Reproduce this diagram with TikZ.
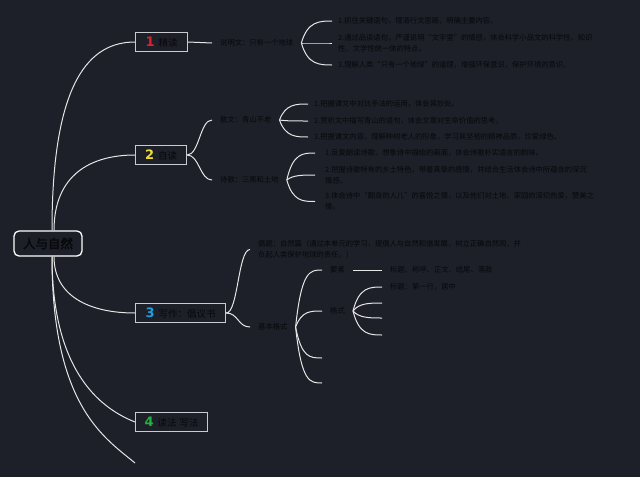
\documentclass[tikz,border=0pt]{standalone}
\usepackage{fontspec}
\usepackage{xcolor}
\usepackage{tikz}
\usetikzlibrary{positioning,calc}
\newfontfamily\cjk{Noto Sans CJK SC}
\newfontfamily\cjkbold[FakeBold=2.5]{Noto Sans CJK SC}
\newfontfamily\numfont{DejaVu Sans}
\definecolor{bgc}{HTML}{1E2029}
\definecolor{linec}{HTML}{E6E6E6}
\definecolor{boxc}{HTML}{C9CBD0}
\definecolor{inkc}{HTML}{07080B}
\definecolor{onec}{HTML}{E3202B}
\definecolor{twoc}{HTML}{F0DF2A}
\definecolor{threec}{HTML}{1E9FE0}
\definecolor{fourc}{HTML}{22B43A}
\newcommand\bnum[2]{{\numfont\bfseries\fontsize{13}{13}\selectfont\color{#1}#2}\hspace{4pt}}

\begin{document}
\begin{tikzpicture}[
    x=1pt, y=-1pt,
    font=\cjk\fontsize{7.3}{11}\selectfont,
    hub/.style={draw=white, line width=1.3pt, rounded corners=5pt, fill=bgc,
      minimum width=68pt, minimum height=25pt, inner sep=2pt,
      text=inkc, font=\cjkbold\fontsize{12.5}{13}\selectfont},
    topic/.style={draw=boxc, line width=1.2pt, fill=bgc, anchor=west,
      minimum height=19pt, inner sep=2pt, text=inkc,
      font=\cjk\fontsize{9.5}{10}\selectfont},
    lbl/.style={anchor=west, inner xsep=8pt, inner ysep=1pt, align=left, text=inkc},
    point/.style={anchor=west, inner xsep=6pt, inner ysep=1pt, align=left, text=inkc},
    link/.style={draw=linec, line width=1pt},
    scurve/.style={to path={.. controls ($(\tikztostart)+(12,0)$) and ($(\tikztotarget)+(-12,0)$) .. (\tikztotarget)}},
    fork/.style={to path={.. controls ($(\tikztostart |- \tikztotarget)+(6,0)$) and ($(\tikztotarget)+(-12,0)$) .. (\tikztotarget)}}
  ]

  \fill[bgc] (0,0) rectangle (640,477);
  \useasboundingbox (0,0) rectangle (640,477);

  % --- root
  \node[hub] (root) at (48,243.5) {人与自然};

  % --- 1 精读
  \node[topic, minimum width=52pt] (b1) at (135,42) {\bnum{onec}{1}精读};
  \node[lbl] (t11) at (212,43) {说明文：只有一个地球};
  \node[point] (i11) at (332,21) {1.抓住关键语句，理清行文思路，明确主要内容。};
  \node[point] (i12) at (332,43)
    {2.通过品读语句，严谨说明“文字里”的情感，体会科学小品文的科学性、知识\\性、文学性统一体的特点。};
  \node[point] (i13) at (332,65) {3.理解人类“只有一个地球”的道理，增强环保意识，保护环境的意识。};

  % --- 2 自读
  \node[topic, minimum width=51pt] (b2) at (135,155) {\bnum{twoc}{2}自读};
  \node[lbl] (t21) at (212,120) {散文：青山不老};
  \node[lbl] (t22) at (212,180) {诗歌：三黑和土地};
  \node[point] (i21) at (308,104) {1.把握课文中对比手法的运用，体会其妙处。};
  \node[point] (i22) at (308,121) {2.赏析文中描写青山的语句，体会文章对生命价值的思考。};
  \node[point] (i23) at (308,137) {3.把握课文内容，理解种树老人的形象，学习其坚韧的精神品质，珍爱绿色。};
  \node[point, inner xsep=10pt] (i24) at (315,153) {1.反复朗读诗歌，想象诗中描绘的画面，体会诗歌朴实语言的韵味。};
  \node[point, inner xsep=10pt] (i25) at (315,175)
    {2.把握诗歌特有的乡土特色，带着真挚的感情，并结合生活体会诗中所蕴含的深沉\\情感。};
  \node[point, inner xsep=10pt] (i26) at (315,201.5)
    {3.体会诗中“翻身的人儿”的喜悦之情，以及他们对土地、家园的深切热爱，赞美之\\情。};

  % --- 3 写作
  \node[topic, minimum width=90pt] (b3) at (135,313) {\bnum{threec}{3}写作：倡议书};
  \node[lbl] (t31) at (250,249.5)
    {倡题：自然篇（通过本单元的学习，提倡人与自然和谐发展，树立正确自然观，并\\负起人类保护地球的责任。）};
  \node[lbl] (t32) at (250,327) {基本格式};
  \node[lbl] (e1) at (322,270) {要素};
  \node[lbl] (e1v) at (382,270) {标题、称呼、正文、结尾、落款};
  \node[lbl] (e2) at (322,311) {格式};
  \node[lbl] (f1) at (382,287) {标题：第一行，居中};
  \coordinate (f2) at (382,303);
  \coordinate (f3) at (382,318);
  \coordinate (f4) at (382,335);
  \coordinate (g1) at (322,358);
  \coordinate (g2) at (322,383);

  % --- 4 读法 写法
  \node[topic, minimum width=72pt] (b4) at (135,422) {\bnum{fourc}{4}读法\hspace{3pt}写法};
  \coordinate (b5) at (135,463);

  % --- root branches
  \draw[link] ([xshift=4pt]root.north) .. controls +(0,-150) and +(-45,0) .. (b1.west);
  \draw[link] ([xshift=6pt]root.north) .. controls +(0,-55) and +(-45,0) .. (b2.west);
  \draw[link] ([xshift=6pt]root.south) .. controls +(0,40) and +(-45,0) .. (b3.west);
  \draw[link] ([xshift=4pt]root.south) .. controls +(0,120) and +(-30,-12) .. (b4.west);
  \draw[link] ([xshift=4pt]root.south) .. controls +(0,150) and +(-30,-25) .. (b5);

  % --- sub branches
  \draw[link] (b1.east) -- (t11.west);
  \foreach \n in {i11,i12,i13} \draw[link] (t11.east) to[fork] (\n.west);
  \draw[link] (b2.east) to[scurve] (t21.west);
  \draw[link] (b2.east) to[scurve] (t22.west);
  \foreach \n in {i21,i22,i23} \draw[link] (t21.east) to[fork] (\n.west);
  \foreach \n in {i24,i25,i26} \draw[link] (t22.east) to[fork] (\n.west);
  \draw[link] (b3.east) to[scurve] (t31.west);
  \draw[link] (b3.east) to[scurve] (t32.west);
  \foreach \n in {e1.west,e2.west,g1,g2} \draw[link] (t32.east) to[fork] (\n);
  \draw[link] (e1.east) -- (e1v.west);
  \foreach \n in {f1.west,f2,f3,f4} \draw[link] (e2.east) to[fork] (\n);

\end{tikzpicture}
\end{document}
